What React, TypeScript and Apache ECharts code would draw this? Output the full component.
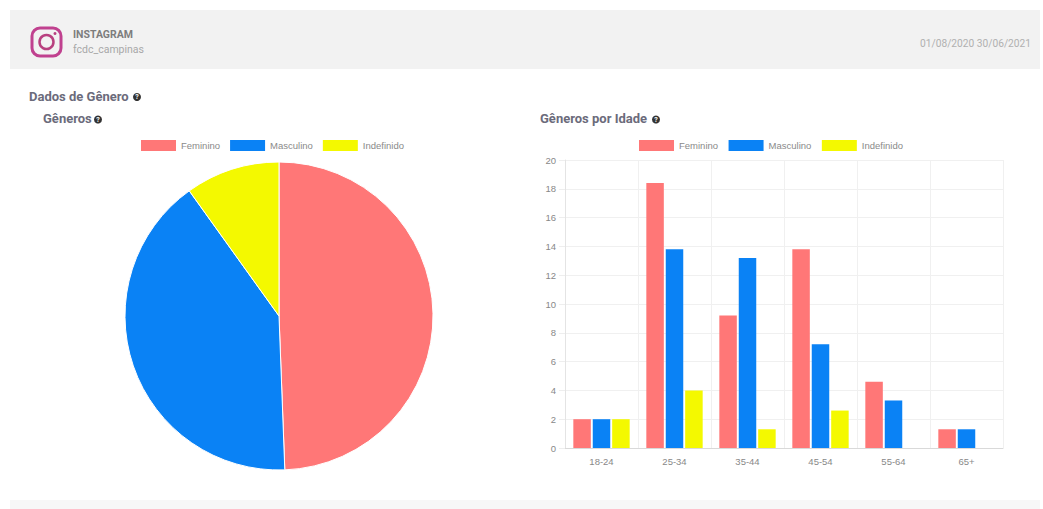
import React, { useEffect, useRef } from "react";
import * as echarts from "echarts";

const genderNames = ["Feminino", "Masculino", "Indefinido"];
const genderColors = ["#ff7777", "#0a82f5", "#f4f900"];
const pieValues = [49.4, 40.7, 9.9];
const ageGroups = ["18-24", "25-34", "35-44", "45-54", "55-64", "65+"];
const feminino = [2, 18.4, 9.2, 13.8, 4.6, 1.3];
const masculino = [2, 13.8, 13.2, 7.2, 3.3, 1.3];
const indefinido = [2, 4, 1.3, 2.6, 0, 0];
const barValues = [feminino, masculino, indefinido];

const FONT = "Roboto, 'Noto Sans', sans-serif";
const TITLE = "#6b6b7b";

const helpIcon = (x: number, y: number) => [
  { type: "circle", shape: { cx: x, cy: y, r: 4 }, style: { fill: "#333" }, silent: true },
  {
    type: "text", x, y,
    style: { text: "?", fill: "#fff", font: `bold 7px ${FONT}`, align: "center", verticalAlign: "middle" },
    silent: true,
  },
];

const label = (text: string, x: number, y: number, size: number, fill: string, weight = "normal", align = "left") => ({
  type: "text", x, y, silent: true,
  style: { text, fill, font: `${weight} ${size}px ${FONT}`, align, verticalAlign: "middle" },
});

const legend = (left: number, gap: number) => ({
  left, top: 140, orient: "horizontal", icon: "rect", itemWidth: 35, itemHeight: 11, itemGap: gap,
  selectedMode: false, padding: 0, data: genderNames,
  textStyle: { color: "#8a8a8a", fontSize: 9.5, fontFamily: "'Liberation Sans', sans-serif", padding: [0, 0, 0, 0] },
});

export default function App() {
  const ref = useRef<HTMLDivElement>(null);
  useEffect(() => {
    const chart = echarts.init(ref.current!, undefined, { renderer: "svg" });
    chart.setOption({
      animation: false,
      backgroundColor: "#ffffff",
      color: genderColors,
      legend: [legend(141, 10), legend(639, 10.5)],
      grid: { left: 565, top: 160, width: 438, height: 288, containLabel: false },
      xAxis: {
        type: "category", data: ageGroups,
        axisLine: { lineStyle: { color: "#d9d9d9" } },
        axisTick: { show: false },
        axisLabel: { color: "#888", fontSize: 9.5, margin: 8, interval: 0, fontFamily: "'Liberation Sans', sans-serif" },
        splitLine: { show: true, interval: 0, lineStyle: { color: "#f0f0f0" } },
      },
      yAxis: {
        type: "value", min: 0, max: 20, interval: 2,
        axisLine: { show: true, lineStyle: { color: "#e4e4e4" } },
        axisTick: { show: true, length: 6, lineStyle: { color: "#eeeeee" } },
        axisLabel: { color: "#888", fontSize: 9.5, margin: 9, fontFamily: "'Liberation Sans', sans-serif" },
        splitLine: { lineStyle: { color: "#f0f0f0" } },
      },
      series: [
        {
          type: "pie", name: "Gêneros", center: [279, 316], radius: 154, startAngle: 90, clockwise: true,
          label: { show: false }, labelLine: { show: false }, silent: true,
          itemStyle: { borderColor: "#fff", borderWidth: 1 },
          data: genderNames.map((name, i) => ({ name, value: pieValues[i], itemStyle: { color: genderColors[i] } })),
        },
        ...genderNames.map((name, i) => ({
          type: "bar", name, data: barValues[i], barWidth: 17.5, barGap: "11%", silent: true,
          itemStyle: { color: genderColors[i] },
        })),
      ],
      graphic: [
        { type: "rect", shape: { x: 10, y: 10, width: 1030, height: 59 }, style: { fill: "#f2f2f2" }, silent: true },
        { type: "rect", shape: { x: 10, y: 500, width: 1030, height: 9 }, style: { fill: "#f7f7f7" }, silent: true },
        {
          type: "rect", shape: { x: 32, y: 28, width: 29, height: 28, r: 8 },
          style: { fill: "none", stroke: "#c0418f", lineWidth: 3 }, silent: true,
        },
        { type: "circle", shape: { cx: 46.5, cy: 42, r: 7 }, style: { fill: "none", stroke: "#b8407f", lineWidth: 2.5 }, silent: true },
        { type: "circle", shape: { cx: 55, cy: 33.5, r: 1.5 }, style: { fill: "#b8407f" }, silent: true },
        label("INSTAGRAM", 73, 34, 10.5, "#7d7d7d", "bold"),
        label("fcdc_campinas", 73, 49.5, 10.5, "#a8a8a8"),
        label("01/08/2020 30/06/2021", 1031, 43, 10.2, "#b0b0b0", "normal", "right"),
        label("Dados de Gênero", 29, 96, 13, TITLE, "bold"),
        ...helpIcon(137, 97),
        label("Gêneros", 43, 118.5, 13, TITLE, "bold"),
        ...helpIcon(98, 119.5),
        label("Gêneros por Idade", 540, 118.5, 13, TITLE, "bold"),
        ...helpIcon(656, 119.5),
      ],
    });
    return () => chart.dispose();
  }, []);
  return (
    <div
      ref={ref}
      style={{ position: "absolute", left: 0, top: 0, width: 1043, height: 509 }}
    />
  );
}
